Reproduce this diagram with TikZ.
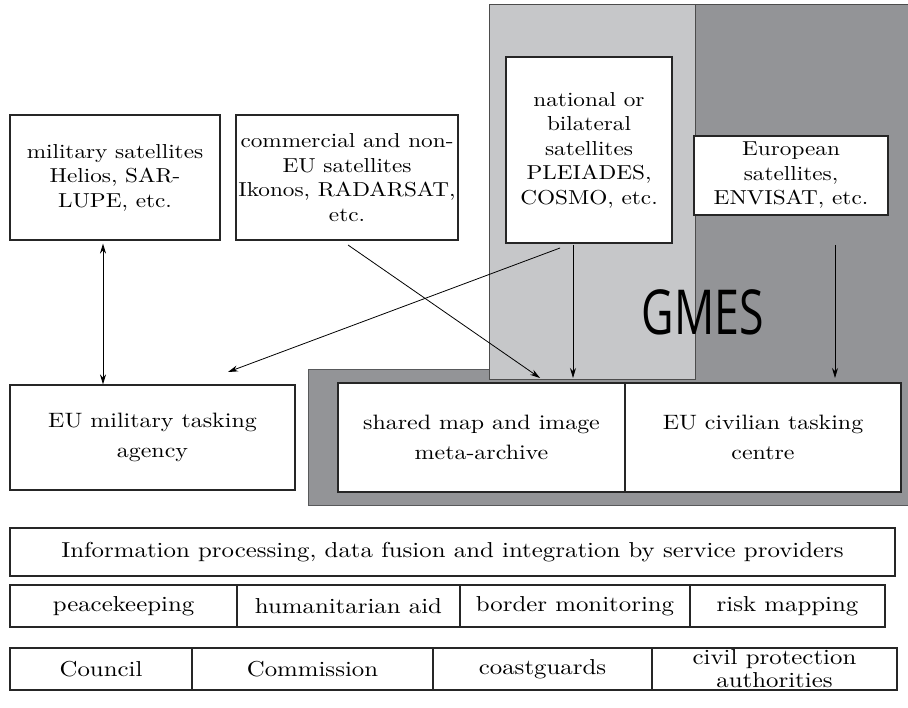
\documentclass[tikz,border=0pt]{standalone}
\usepackage{fontspec}
\usepackage{graphicx}
\setmainfont{lmroman10-regular}[Extension=.otf, FakeStretch=1.15]
\newfontfamily\gmesfont{Open Sans}
\usetikzlibrary{arrows.meta}
\definecolor{lightg}{HTML}{C6C7C9}
\definecolor{darkg}{HTML}{939497}
\tikzset{
  box/.style={draw=black!85, fill=white, line width=1.2pt, align=center, inner sep=0pt,
    font=\fontsize{20.2}{24.5}\selectfont},
  midbox/.style={box, font=\fontsize{20.8}{30}\selectfont},
  cell/.style={draw=black!85, fill=white, line width=1.2pt, align=center, inner sep=0pt,
    font=\fontsize{21.6}{23}\selectfont, minimum height=42pt},
  arr/.style={line width=0.8pt, -{Stealth[length=10pt,width=6pt]}},
  darr/.style={line width=0.8pt, {Stealth[length=10pt,width=6pt]}-{Stealth[length=10pt,width=6pt]}}
}
\begin{document}
\begin{tikzpicture}[x=1pt,y=-1pt]
\useasboundingbox (0,0) rectangle (908,708);
% gray background regions
\draw[darkg!60!black, line width=1pt, fill=darkg] (308,370) rectangle (908,505);
\fill[darkg] (695,5) rectangle (908,505);
\draw[line width=1pt, black!70, fill=lightg] (489,5) rectangle (695,380);
\draw[line width=1pt, black!70] (695,5) -- (908,5);
\node (gmes) at (703,312) {\gmesfont\fontsize{62}{62}\selectfont\scalebox{0.72}[1]{GMES}};
% top boxes
\node[box, minimum width=210pt, minimum height=125pt] (mil) at (115,177.5)
  {military satellites\\Helios, SAR-\\LUPE, etc.};
\node[box, minimum width=222pt, minimum height=125pt] (com) at (347,177.5)
  {commercial and non-\\EU satellites\\Ikonos, RADARSAT,\\etc.};
\node[box, minimum width=166pt, minimum height=186pt] (nat) at (589,150)
  {national or\\bilateral\\satellites\\PLEIADES,\\COSMO, etc.};
\node[box, minimum width=194pt, minimum height=79pt] (eur) at (791,175.5)
  {European\\satellites,\\ENVISAT, etc.};
% middle boxes
\node[midbox, minimum width=285pt, minimum height=105pt] (mta) at (152.5,437.5)
  {EU military tasking\\agency};
\node[midbox, minimum width=287pt, minimum height=109pt] (shared) at (481.5,437.5)
  {shared map and image\\meta-archive};
\node[midbox, minimum width=276pt, minimum height=109pt] (civ) at (763,437.5)
  {EU civilian tasking\\centre};
% arrows
\coordinate (c1) at (348,245);
\coordinate (c2) at (540,378);
\coordinate (n1) at (560,248);
\coordinate (n2) at (228,372);
\coordinate (n3) at (573,245);
\coordinate (n4) at (573,378);
\coordinate (e1) at (835,245);
\coordinate (e2) at (835,378);
\draw[darr] (mil.south -| 103,0) ++(0,3) coordinate (m1) -- (m1 |- mta.north);
\draw[arr] (c1) -- (c2);
\draw[arr] (n1) -- (n2);
\draw[arr] (n3) -- (n4);
\draw[arr] (e1) -- (e2);
% bottom rows
\node[cell, minimum width=885pt, minimum height=48pt] (info) at (452.5,552)
  {Information processing, data fusion and integration by service providers};
\node[cell, minimum width=227pt] (pk) at (123.5,606) {peacekeeping};
\node[cell, minimum width=223pt] (ha) at (348.5,606) {humanitarian aid};
\node[cell, minimum width=230pt] (bm) at (575,606) {border monitoring};
\node[cell, minimum width=195pt] (rm) at (787.5,606) {risk mapping};
\node[cell, minimum width=182pt] (cou) at (101,669) {Council};
\node[cell, minimum width=241pt] (com2) at (312.5,669) {Commission};
\node[cell, minimum width=219pt] (cg) at (542.5,669) {coastguards};
\node[cell, minimum width=245pt] (cpa) at (774.5,669) {civil protection\\authorities};
\end{tikzpicture}
\end{document}
